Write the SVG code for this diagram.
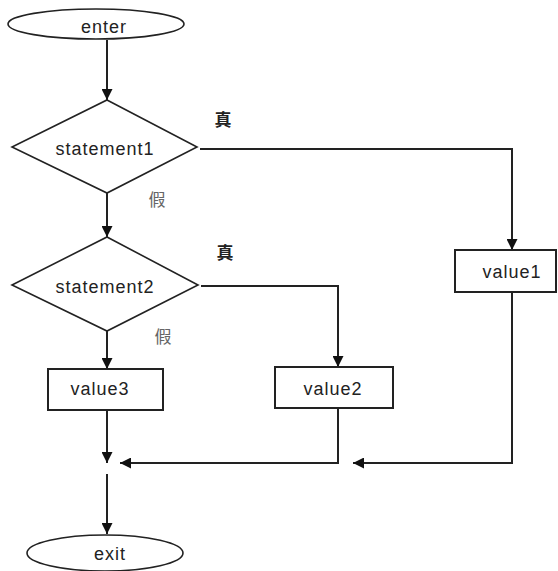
<svg xmlns="http://www.w3.org/2000/svg" width="558" height="571" viewBox="0 0 558 571">
<defs>
<style>
.shape{fill:#fff;stroke:#222;stroke-width:1.6}
.box{fill:#fff;stroke:#222;stroke-width:2}
.line{fill:none;stroke:#222;stroke-width:2}
.t{font-family:"Liberation Sans",Arial,sans-serif;font-size:18px;letter-spacing:1px;fill:#222;text-anchor:middle}
.c{font-family:"Noto Sans CJK SC",sans-serif;font-size:17px;fill:#222;text-anchor:middle;font-weight:bold}
.f{fill:#666;font-weight:normal}
</style>
<marker id="ah" viewBox="0 0 10 10" refX="10" refY="5" markerWidth="6" markerHeight="5.5" orient="auto" markerUnits="strokeWidth">
<path d="M0,0 L10,5 L0,10 z" fill="#111"/>
</marker>
</defs>
<rect width="558" height="571" fill="#fff"/>
<g id="connectors">
<path class="line" d="M107,40 V100" marker-end="url(#ah)"/>
<path class="line" d="M200,149 H512 V250" marker-end="url(#ah)"/>
<path class="line" d="M107,193 V237" marker-end="url(#ah)"/>
<path class="line" d="M201,286 H338 V367" marker-end="url(#ah)"/>
<path class="line" d="M107,331 V369" marker-end="url(#ah)"/>
<path class="line" d="M107,410 V463" marker-end="url(#ah)"/>
<path class="line" d="M338,408 V463 H120" marker-end="url(#ah)"/>
<path class="line" d="M512,292 V463 H353" marker-end="url(#ah)"/>
<path class="line" d="M107,474 V534" marker-end="url(#ah)"/>
</g>
<g id="enter">
<ellipse class="shape" cx="96" cy="24" rx="88" ry="15"/>
<text class="t" x="104" y="33">enter</text>
</g>
<g id="statement1">
<polygon class="shape" points="107,100 197,147 107,193 12,147"/>
<text class="t" x="105" y="155">statement1</text>
</g>
<g id="statement2">
<polygon class="shape" points="107,237 198,285 107,331 12,285"/>
<text class="t" x="105" y="293">statement2</text>
</g>
<g id="value1">
<rect class="box" x="455" y="250" width="101" height="42"/>
<text class="t" x="512" y="278">value1</text>
</g>
<g id="value2">
<rect class="box" x="275" y="367" width="118" height="41"/>
<text class="t" x="333" y="395">value2</text>
</g>
<g id="value3">
<rect class="box" x="48" y="369" width="115" height="41"/>
<text class="t" x="100" y="395">value3</text>
</g>
<g id="exit">
<ellipse class="shape" cx="105" cy="553" rx="78" ry="18"/>
<text class="t" x="110" y="560">exit</text>
</g>
<g id="labels">
<text class="c" x="223" y="126">真</text>
<text class="c f" x="157" y="206">假</text>
<text class="c" x="225" y="259">真</text>
<text class="c f" x="163" y="343">假</text>
</g>
</svg>
